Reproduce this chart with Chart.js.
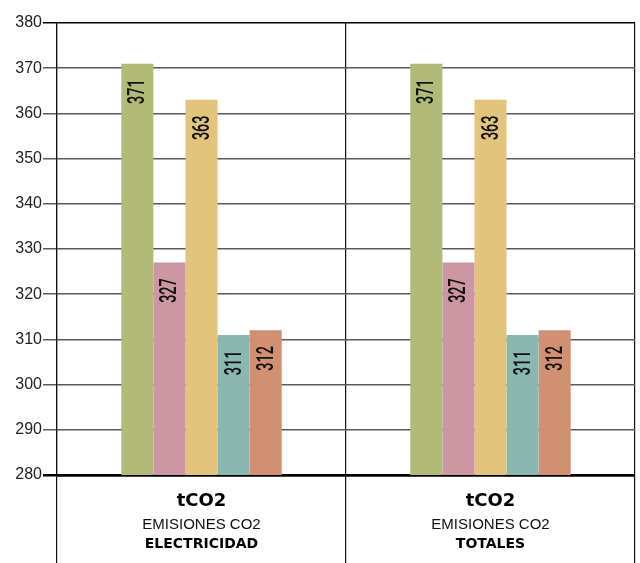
<!DOCTYPE html>
<html>
<head>
<meta charset="utf-8">
<script src="https://cdn.jsdelivr.net/npm/chart.js@4/dist/chart.umd.min.js"></script>
<style>
  html, body { margin: 0; padding: 0; background: #fff; }
  #wrap { width: 640px; height: 563px; }
</style>
</head>
<body>
<div id="wrap"><canvas id="c" width="640" height="563"></canvas></div>
<script>
// Categories and their three-line captions
const categories = ['ELECTRICIDAD', 'TOTALES'];
const captionTop = ['tCO2', 'tCO2'];
const captionMid = ['EMISIONES CO2', 'EMISIONES CO2'];
const captionBottom = ['ELECTRICIDAD', 'TOTALES'];

// Series values (tCO2), one value per category
const serieA = [371, 371];
const serieB = [327, 327];
const serieC = [363, 363];
const serieD = [311, 311];
const serieE = [312, 312];

// Y axis range
const yMin = 280;
const yMax = 380;
const yStep = 10;

const colors = ['#b1bb77', '#cc96a3', '#e2c47d', '#8ab8b1', '#d19071'];
const series = [serieA, serieB, serieC, serieD, serieE];

// Rotated, condensed value labels near the top of each bar
const barValueLabels = {
  id: 'barValueLabels',
  afterDatasetsDraw(chart) {
    const ctx = chart.ctx;
    chart.data.datasets.forEach((ds, di) => {
      const meta = chart.getDatasetMeta(di);
      meta.data.forEach((bar, i) => {
        const v = ds.data[i];
        ctx.save();
        ctx.translate(bar.x, bar.y + 28);
        ctx.rotate(-Math.PI / 2);
        ctx.scale(0.6, 1);
        ctx.font = '500 24px Roboto, "Liberation Sans", sans-serif';
        ctx.fillStyle = '#111';
        ctx.textAlign = 'center';
        ctx.textBaseline = 'middle';
        ctx.fillText(String(v), 0, 1);
        ctx.restore();
      });
    });
  }
};

// Multi-font captions under each category
const categoryCaptions = {
  id: 'categoryCaptions',
  afterDraw(chart) {
    const ctx = chart.ctx;
    const xs = chart.scales.x;
    const base = chart.chartArea.bottom;
    categories.forEach((c, i) => {
      const x = xs.getPixelForValue(i);
      ctx.save();
      ctx.fillStyle = '#000';
      ctx.textAlign = 'center';
      ctx.textBaseline = 'middle';
      ctx.font = 'bold 18px "DejaVu Sans", sans-serif';
      ctx.fillText(captionTop[i], x, base + 26);
      ctx.font = '15px "Liberation Sans", Arial, sans-serif';
      ctx.fillStyle = '#111';
      ctx.fillText(captionMid[i], x, base + 50);
      ctx.fillStyle = '#000';
      ctx.font = 'bold 14px "DejaVu Sans", sans-serif';
      ctx.fillText(captionBottom[i], x, base + 69);
      ctx.restore();
    });
  }
};

new Chart(document.getElementById('c'), {
  type: 'bar',
  data: {
    labels: categories,
    datasets: series.map((s, k) => ({
      label: 'S' + (k + 1),
      data: s,
      backgroundColor: colors[k],
      borderWidth: 0,
      barPercentage: 1,
      categoryPercentage: 0.555
    }))
  },
  options: {
    responsive: false,
    animation: false,
    layout: { padding: { top: 23, right: 5, left: 0, bottom: 0 } },
    plugins: {
      legend: { display: false },
      tooltip: { enabled: false }
    },
    scales: {
      x: {
        offset: true,
        grid: {
          offset: true,
          color: '#111',
          lineWidth: 1.2,
          tickLength: 88,
          drawOnChartArea: true
        },
        border: { display: true, color: '#000', width: 2.5 },
        ticks: { display: false },
        afterFit(scale) { scale.height = 88; }
      },
      y: {
        min: yMin,
        max: yMax,
        ticks: {
          stepSize: yStep,
          color: '#222',
          padding: 1,
          font: { family: '"Liberation Sans", Arial, sans-serif', size: 16 }
        },
        grid: {
          tickLength: 14,
          color: (c) => (c.tick && (c.tick.value === yMax || c.tick.value === yMin)) ? '#000' : '#5a5a5a',
          lineWidth: (c) => (c.tick && c.tick.value === yMin) ? 2.5 : 1.5
        },
        border: { display: true, color: '#111', width: 1.2 },
        afterFit(scale) { scale.width = 57; }
      }
    }
  },
  plugins: [barValueLabels, categoryCaptions]
});
</script>
</body>
</html>
